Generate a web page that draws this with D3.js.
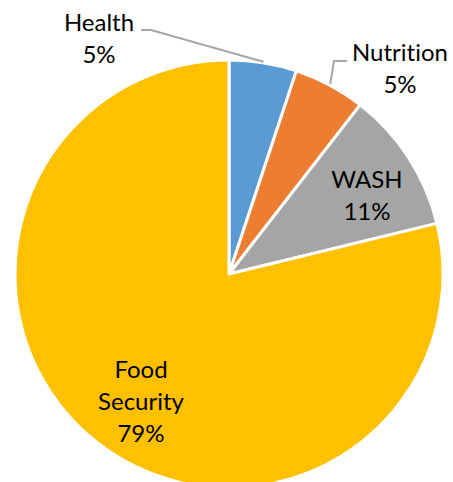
<!DOCTYPE html>
<html>
<head>
<meta charset="utf-8">
<script src="https://cdn.jsdelivr.net/npm/d3@7"></script>
<style>
  html, body { margin: 0; padding: 0; background: #fff; }
  svg { display: block; }
  text { font-family: Lato, "Open Sans", sans-serif; font-size: 24px; fill: #000;
         font-variant-ligatures: none; font-feature-settings: "liga" 0, "dlig" 0; }
</style>
</head>
<body>
<svg id="chart" width="453" height="482"></svg>
<script>
// ---- data ----
const categories = ["Health", "Nutrition", "WASH", "Food Security"];
const values = [5.1, 5.4, 10.7, 78.8];
const colors = ["#5B9BD5", "#ED7D31", "#A5A5A5", "#FFC000"];
const labelLines = [["Health", "5%"], ["Nutrition", "5%"], ["WASH", "11%"], ["Food", "Security", "79%"]];

// ---- layout ----
const W = 453, H = 482;
const cx = 229, cy = 274, R = 214;
const lineH = 32;
// label anchor: center x and first baseline (absolute), plus leader elbow
const labelPos = [
  { x: 99, y: 31, leader: [[141, 30], [151, 30]] },
  { x: 400, y: 61, leader: [[347, 61], [334, 61]] },
  { x: 367, y: 188, leader: null },
  { x: 141, y: 378, leader: null }
];

const svg = d3.select("#chart");
const g = svg.append("g").attr("transform", `translate(${cx},${cy})`);

const pie = d3.pie().sort(null).value(d => d.value).startAngle(0).endAngle(2 * Math.PI);
const data = categories.map((c, i) => ({ name: c, value: values[i], color: colors[i], i }));
const arcs = pie(data);
const arc = d3.arc().innerRadius(0).outerRadius(R);

g.selectAll("path.slice")
  .data(arcs)
  .join("path")
  .attr("class", "slice")
  .attr("d", arc)
  .attr("fill", d => d.data.color)
  .attr("stroke", "#fff")
  .attr("stroke-width", 3)
  .attr("stroke-linejoin", "round");

// leader lines
arcs.forEach((a, i) => {
  const lp = labelPos[i];
  if (!lp.leader) return;
  const mid = (a.startAngle + a.endAngle) / 2;
  const ex = cx + Math.sin(mid) * (R + 1);
  const ey = cy - Math.cos(mid) * (R + 1);
  const pts = lp.leader.concat([[ex, ey]]);
  svg.append("path")
    .attr("d", d3.line()(pts))
    .attr("fill", "none")
    .attr("stroke", "#A6A6A6")
    .attr("stroke-width", 2);
});

// labels
arcs.forEach((a, i) => {
  const lp = labelPos[i];
  const t = svg.append("text").attr("text-anchor", "middle");
  labelLines[i].forEach((s, k) => {
    t.append("tspan").attr("x", lp.x).attr("y", lp.y + k * lineH).text(s);
  });
});
</script>
</body>
</html>
